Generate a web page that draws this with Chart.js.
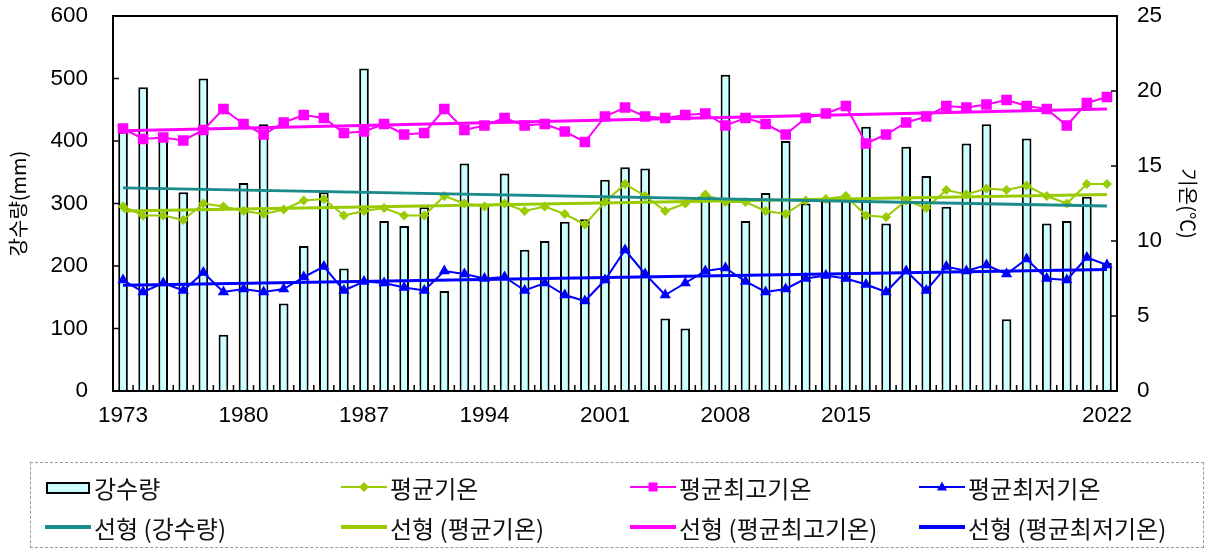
<!DOCTYPE html>
<html>
<head>
<meta charset="utf-8">
<script src="https://cdn.jsdelivr.net/npm/chart.js@4.4.1/dist/chart.umd.min.js"></script>
<style>
  body { margin: 0; background: #fff; }
  #wrap { position: relative; width: 1210px; height: 551px; }
  #legendBox { position: absolute; left: 30px; top: 462px; width: 1174px; height: 86px;
    border: 1px dashed #999; box-sizing: border-box; }
  .item { position: absolute; height: 30px; display: flex; align-items: center;
    font-family: "Noto Sans CJK KR", sans-serif; font-size: 24px; color: #111; white-space: pre; }
  .icon { position: relative; width: 46px; height: 30px; margin-right: 3px; }
  .icon .ln { position: absolute; left: 0; right: 0; top: 14px; height: 2px; }
  .icon .ln.thick { top: 13px; height: 4px; }
  .icon .box { position: absolute; left: 1px; right: 1px; top: 10px; height: 8px;
    background: #ccffff; border: 2px solid #000; }
  .icon .mk { position: absolute; left: 50%; top: 50%; }
</style>
</head>
<body>
<div id="wrap">
  <canvas id="myChart" width="1210" height="551"></canvas>
  <div id="legendBox"></div>
  <div class="item" style="left:45px;top:472px"><span class="icon"><span class="box"></span></span>강수량</div>
  <div class="item" style="left:341px;top:472px"><span class="icon"><span class="ln" style="background:#99cc00"></span><span class="mk" style="width:7px;height:7px;background:#99cc00;transform:translate(-50%,-50%) rotate(45deg)"></span></span>평균기온</div>
  <div class="item" style="left:630px;top:472px"><span class="icon"><span class="ln" style="background:#ff00ff"></span><span class="mk" style="width:9px;height:9px;background:#ff00ff;transform:translate(-50%,-50%)"></span></span>평균최고기온</div>
  <div class="item" style="left:919px;top:472px"><span class="icon"><span class="ln" style="background:#0000ff"></span><span class="mk" style="width:0;height:0;border-left:5px solid transparent;border-right:5px solid transparent;border-bottom:9px solid #0000ff;transform:translate(-50%,-60%)"></span></span>평균최저기온</div>
  <div class="item" style="left:45px;top:512px"><span class="icon"><span class="ln thick" style="background:#1a8a8a"></span></span>선형 (강수량)</div>
  <div class="item" style="left:341px;top:512px"><span class="icon"><span class="ln thick" style="background:#99cc00"></span></span>선형 (평균기온)</div>
  <div class="item" style="left:630px;top:512px"><span class="icon"><span class="ln thick" style="background:#ff00ff"></span></span>선형 (평균최고기온)</div>
  <div class="item" style="left:919px;top:512px"><span class="icon"><span class="ln thick" style="background:#0000ff"></span></span>선형 (평균최저기온)</div>
</div>
<script>
var years = [1973, 1974, 1975, 1976, 1977, 1978, 1979, 1980, 1981, 1982,
  1983, 1984, 1985, 1986, 1987, 1988, 1989, 1990, 1991, 1992,
  1993, 1994, 1995, 1996, 1997, 1998, 1999, 2000, 2001, 2002,
  2003, 2004, 2005, 2006, 2007, 2008, 2009, 2010, 2011, 2012,
  2013, 2014, 2015, 2016, 2017, 2018, 2019, 2020, 2021, 2022];

// tick labels as printed on the original axis, and the bar they sit under
var tickAt = [0, 6, 12, 18, 24, 30, 36, 49];
var tickText = ['1973', '1980', '1987', '1994', '2001', '2008', '2015', '2022'];

// 강수량 (mm)
var rain = [415, 486, 402, 318, 500, 90, 333, 427, 140, 232,
  318, 196, 516, 272, 264, 294, 160, 364, 297, 348,
  226, 240, 271, 275, 338, 358, 356, 116, 100, 313,
  506, 272, 317, 400, 300, 305, 305, 423, 268, 391,
  344, 295, 396, 427, 115, 404, 268, 272, 311, 205];

// 평균기온
var tAvg = [12.3, 11.7, 11.7, 11.4, 12.5, 12.3, 12.0, 11.8, 12.1, 12.7,
  12.8, 11.7, 12.0, 12.2, 11.7, 11.7, 13.0, 12.5, 12.3, 12.5,
  12.0, 12.3, 11.8, 11.1, 12.6, 13.8, 13.0, 12.0, 12.5, 13.1,
  12.6, 12.6, 12.0, 11.8, 12.7, 12.8, 13.0, 11.7, 11.6, 12.7,
  12.2, 13.4, 13.1, 13.5, 13.4, 13.7, 13.0, 12.5, 13.8, 13.8];

// 평균최고기온
var tMax = [17.5, 16.8, 16.9, 16.7, 17.4, 18.8, 17.8, 17.1, 17.9, 18.4,
  18.2, 17.2, 17.3, 17.8, 17.1, 17.2, 18.8, 17.4, 17.7, 18.2,
  17.7, 17.8, 17.3, 16.6, 18.3, 18.9, 18.3, 18.2, 18.4, 18.5,
  17.7, 18.2, 17.8, 17.1, 18.2, 18.5, 19.0, 16.5, 17.1, 17.9,
  18.3, 19.0, 18.9, 19.1, 19.4, 19.0, 18.8, 17.7, 19.2, 19.6];

// 평균최저기온
var tMin = [7.4, 6.6, 7.2, 6.7, 7.9, 6.6, 6.8, 6.6, 6.8, 7.6,
  8.3, 6.7, 7.3, 7.2, 6.9, 6.7, 8.0, 7.8, 7.5, 7.6,
  6.7, 7.2, 6.4, 6.0, 7.4, 9.4, 7.8, 6.4, 7.2, 8.0,
  8.2, 7.3, 6.6, 6.8, 7.5, 7.7, 7.5, 7.1, 6.6, 8.0,
  6.7, 8.3, 8.0, 8.4, 7.8, 8.8, 7.5, 7.4, 8.9, 8.4];

// trend lines: value at first and last year
var rainTrend = [325, 296];
var avgTrend = [12.0, 13.1];
var maxTrend = [17.35, 18.8];
var minTrend = [7.05, 8.1];

function ends(pair) {
  var d = years.map(function() { return null; });
  d[0] = pair[0];
  d[d.length - 1] = pair[1];
  return d;
}

// box round the plot and the short inward tick marks
var framePlugin = {
  id: 'frame',
  afterDraw: function(chart) {
    var a = chart.chartArea, c = chart.ctx;
    var x = chart.scales.x, y = chart.scales.y, y1 = chart.scales.y1;
    c.save();
    c.strokeStyle = '#000';
    c.lineWidth = 1.5;
    c.beginPath();
    y.ticks.forEach(function(t) {
      var p = y.getPixelForValue(t.value);
      c.moveTo(a.left, p); c.lineTo(a.left + 6, p);
    });
    y1.ticks.forEach(function(t) {
      var p = y1.getPixelForValue(t.value);
      c.moveTo(a.right, p); c.lineTo(a.right - 6, p);
    });
    var step = (a.right - a.left) / years.length;
    for (var i = 1; i < years.length; i++) {
      var px = x.getPixelForValue(i) - step / 2;
      c.moveTo(px, a.bottom); c.lineTo(px, a.bottom - 6);
    }
    c.stroke();
    c.lineWidth = 2;
    c.strokeRect(a.left, a.top, a.right - a.left, a.bottom - a.top);
    c.restore();
  }
};

var tickFont = { family: '"Liberation Sans", Arial, sans-serif', size: 22.5 };
var titleFont = { family: '"Noto Sans CJK KR", sans-serif', size: 20 };

// invisible tick marks keep labels off the axis without padding the top
var hiddenGrid = function(len) {
  return { display: true, drawOnChartArea: false, drawTicks: true, tickLength: len, tickColor: 'rgba(0,0,0,0)' };
};

document.addEventListener("DOMContentLoaded", function(event) {
  var ctx = document.getElementById('myChart').getContext('2d');

  var myChart = new Chart(ctx, {
    type: 'bar',
    data: {
      labels: years,
      datasets: [
        { type: 'line', label: '선형 (강수량)', data: ends(rainTrend), yAxisID: 'y',
          borderColor: '#1a8a8a', borderWidth: 3, pointRadius: 0, spanGaps: true, order: 1 },
        { type: 'line', label: '선형 (평균기온)', data: ends(avgTrend), yAxisID: 'y1',
          borderColor: '#99cc00', borderWidth: 3, pointRadius: 0, spanGaps: true, order: 1 },
        { type: 'line', label: '선형 (평균최고기온)', data: ends(maxTrend), yAxisID: 'y1',
          borderColor: '#ff00ff', borderWidth: 3, pointRadius: 0, spanGaps: true, order: 1 },
        { type: 'line', label: '선형 (평균최저기온)', data: ends(minTrend), yAxisID: 'y1',
          borderColor: '#0000ff', borderWidth: 3, pointRadius: 0, spanGaps: true, order: 1 },
        { type: 'line', label: '평균기온', data: tAvg, yAxisID: 'y1',
          borderColor: '#99cc00', backgroundColor: '#99cc00', borderWidth: 2,
          pointStyle: 'rectRot', pointRadius: 5, pointBorderWidth: 0, order: 2 },
        { type: 'line', label: '평균최고기온', data: tMax, yAxisID: 'y1',
          borderColor: '#ff00ff', backgroundColor: '#ff00ff', borderWidth: 2,
          pointStyle: 'rect', pointRadius: 7.5, pointBorderWidth: 0, order: 2 },
        { type: 'line', label: '평균최저기온', data: tMin, yAxisID: 'y1',
          borderColor: '#0000ff', backgroundColor: '#0000ff', borderWidth: 2,
          pointStyle: 'triangle', pointRadius: 6.5, pointBorderWidth: 0, order: 2 },
        { type: 'bar', label: '강수량', data: rain, yAxisID: 'y',
          backgroundColor: '#ccffff', borderColor: '#000', borderWidth: 2,
          categoryPercentage: 1, barPercentage: 0.48, order: 10 }
      ]
    },
    options: {
      responsive: false,
      animation: false,
      layout: { padding: { top: 16, bottom: 120, left: 0, right: 0 } },
      plugins: { legend: { display: false }, tooltip: { enabled: false } },
      scales: {
        x: {
          grid: hiddenGrid(11),
          border: { display: false },
          ticks: {
            autoSkip: false, maxRotation: 0, padding: 0, color: '#000', font: tickFont,
            callback: function(v, i) {
              var k = tickAt.indexOf(i);
              return k >= 0 ? tickText[k] : '';
            }
          },
          afterFit: function(s) { s.height = 40; }
        },
        y: {
          position: 'left', min: 0, max: 600,
          grid: hiddenGrid(25),
          border: { display: false },
          ticks: { stepSize: 100, padding: 0, color: '#000', font: tickFont },
          title: { display: true, text: '강수량(mm)', color: '#000', font: titleFont, padding: { top: 6 } },
          afterFit: function(s) { s.width = 113; }
        },
        y1: {
          position: 'right', min: 0, max: 25,
          grid: hiddenGrid(20),
          border: { display: false },
          ticks: { stepSize: 5, padding: 0, color: '#000', font: tickFont },
          title: { display: true, text: '기온(℃)', color: '#000', font: titleFont, padding: { top: 10 } },
          afterFit: function(s) { s.width = 93; }
        }
      }
    },
    plugins: [framePlugin]
  });
});
</script>
</body>
</html>
